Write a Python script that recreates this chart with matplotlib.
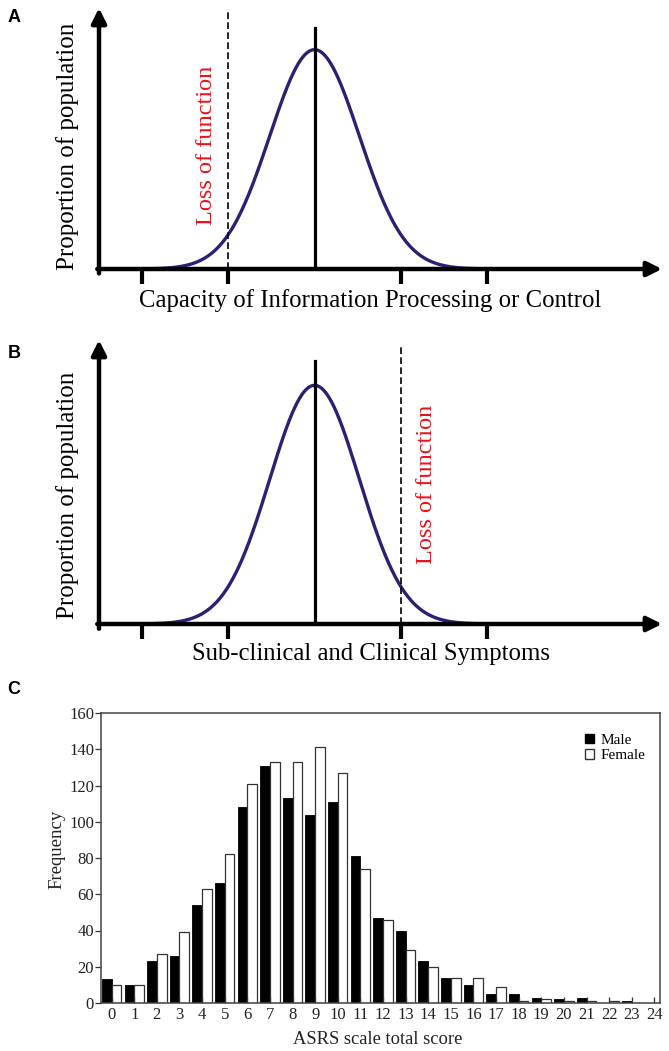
"""
Three-panel figure: conceptual normal curves (A, B) and ASRS score histogram (C).
"""
import numpy as np
import matplotlib
matplotlib.use('Agg')
import matplotlib.pyplot as plt
from matplotlib.patches import Patch

plt.rcParams['font.family'] = ['Liberation Serif', 'DejaVu Serif']

# Conceptual curves (panels A and B)
curve_mean = 0.0
curve_sd = 0.52
curve_ticks = [-2, -1, 1, 2]
threshold_a = -1
threshold_b = 1
label_a = 'Capacity of Information Processing or Control'
label_b = 'Sub-clinical and Clinical Symptoms'

# Histogram (panel C)
scores = list(range(25))
male = [13, 10, 23, 26, 54, 66, 108, 131, 113, 104, 111, 81, 47, 40, 23,
        14, 10, 5, 5, 3, 2, 3, 0, 1, 0]
female = [10, 10, 27, 39, 63, 82, 121, 133, 133, 141, 127, 74, 46, 29, 20,
          14, 14, 9, 1, 2, 1, 1, 1, 0, 0]
y_ticks = [0, 20, 40, 60, 80, 100, 120, 140, 160]

W, H = 669, 1051
fig = plt.figure(figsize=(W / 100, H / 100), dpi=100)


def px_axes(left, top, right, bottom):
    return fig.add_axes([left / W, 1 - bottom / H, (right - left) / W, (bottom - top) / H])


def concept_panel(ax, threshold, xlabel, text_x, text_y, ylab_y, xlab_off):
    xmin, xmax, ytop = -2.5, 4.03, 1.19
    ax.set_xlim(xmin, xmax)
    ax.set_ylim(0, ytop)
    for s in ax.spines.values():
        s.set_visible(False)
    ax.set_yticks([])
    ax.set_xticks(curve_ticks)
    ax.set_xticklabels([])
    ax.tick_params(axis='x', length=11, width=3, direction='out', color='black')

    x = np.linspace(-2.4, 3.0, 600)
    y = np.exp(-0.5 * ((x - curve_mean) / curve_sd) ** 2)
    ax.plot(x, y, color='#2b2174', lw=2.4, zorder=3, solid_capstyle='round')
    ax.plot([curve_mean, curve_mean], [0, 1.10], color='black', lw=2.3, zorder=4)
    ax.plot([threshold, threshold], [0, 1.17], color='black', lw=1.2,
            ls=(0, (4, 2)), zorder=4)

    arrow = dict(arrowstyle='-|>', lw=3.2, color='black', mutation_scale=22,
                 shrinkA=0, shrinkB=0)
    ax.annotate('', xy=(xmax, 0), xytext=(xmin - 0.02, 0), arrowprops=arrow,
                annotation_clip=False, zorder=5)
    ax.annotate('', xy=(xmin, ytop), xytext=(xmin, -0.02), arrowprops=arrow,
                annotation_clip=False, zorder=5)

    ax.text(text_x, text_y, 'Loss of function', color='#e8121b', rotation=90,
            ha='center', va='center', fontsize=17.5)
    ax.text(-2.86, ylab_y, 'Proportion of population', rotation=90,
            ha='center', va='center', fontsize=18, clip_on=False)
    ax.text(0.65, xlab_off, xlabel, ha='center', va='center', fontsize=17.8,
            transform=ax.get_xaxis_transform(), clip_on=False)


ax_a = px_axes(99, 8, 662, 269)
concept_panel(ax_a, threshold_a, label_a, -1.25, 0.565, 0.56, -0.119)

ax_b = px_axes(99, 340, 662, 624)
concept_panel(ax_b, threshold_b, label_b, 1.30, 0.587, 0.54, -0.105)

# Panel C
ax_c = px_axes(101, 713, 660, 1003)
bw = 0.43
xs = np.array(scores)
ax_c.bar(xs - bw / 2, male, width=bw, color='black', edgecolor='black', lw=0.6)
ax_c.bar(xs + bw / 2, female, width=bw, color='white', edgecolor='#333333', lw=0.9)
ax_c.set_xlim(-0.47, 24.25)
ax_c.set_ylim(0, 160)
ax_c.set_xticks(scores)
ax_c.set_yticks(y_ticks)
ax_c.tick_params(axis='x', direction='in', length=4, width=0.9, labelsize=12, pad=3,
                 colors='#333333', labelcolor='#222222')
ax_c.tick_params(axis='y', direction='out', length=4, width=0.9, labelsize=12, pad=1,
                 colors='#333333', labelcolor='#222222')
for s in ax_c.spines.values():
    s.set_color('#444444')
    s.set_linewidth(1.1)
ax_c.set_xlabel('ASRS scale total score', fontsize=13.3, color='#222222')
ax_c.xaxis.set_label_coords(0.495, -0.095)
ax_c.set_ylabel('Frequency', fontsize=13.5, color='#222222')
ax_c.yaxis.set_label_coords(-0.064, 0.53)

handles = [Patch(facecolor='black', edgecolor='black', label='Male'),
           Patch(facecolor='white', edgecolor='#333333', label='Female')]
ax_c.legend(handles=handles, loc='upper left', bbox_to_anchor=(0.855, 0.95),
            frameon=False, fontsize=11, handlelength=0.6, handleheight=0.6,
            handletextpad=0.4, labelspacing=0.15, borderaxespad=0)

# Panel letters
for lab, (px, py) in {'A': (14, 17), 'B': (14, 354), 'C': (14, 690)}.items():
    fig.text(px / W, 1 - py / H, lab, fontsize=13, fontweight='bold',
             family='Liberation Sans', ha='center', va='center')

fig.savefig('out.png', dpi=100)
